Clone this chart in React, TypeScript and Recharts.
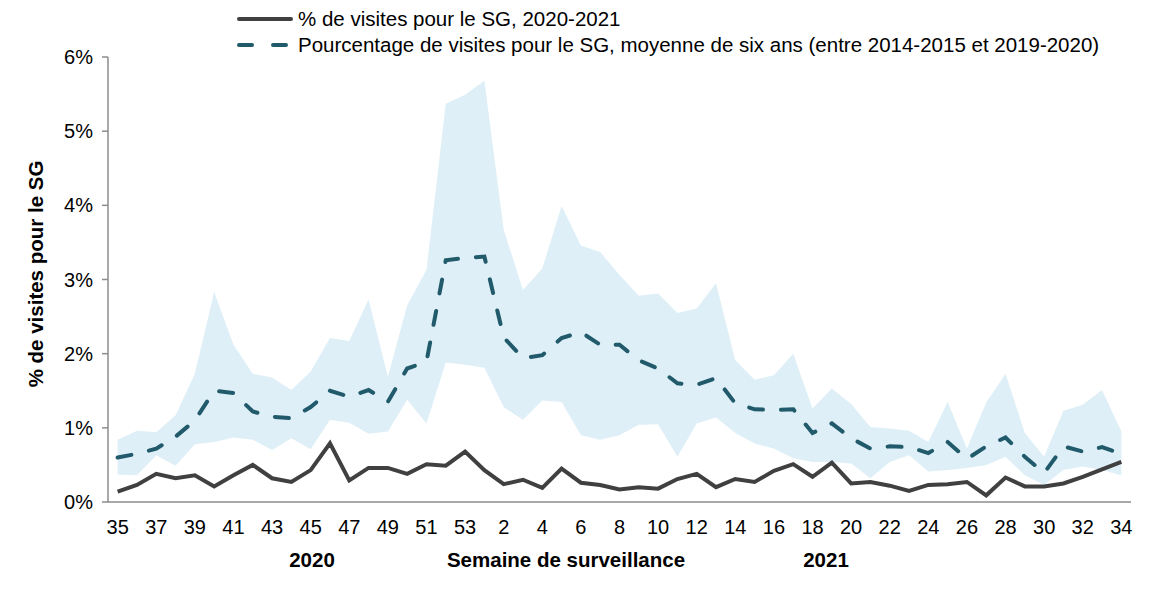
import React from "react";
import { ComposedChart, Area, Line, XAxis, YAxis } from "recharts";

// semaines de surveillance 35 (2020) -> 34 (2021)
const weeks = [
  35, 36, 37, 38, 39, 40, 41, 42, 43, 44, 45, 46, 47, 48, 49, 50, 51, 52, 53,
  1, 2, 3, 4, 5, 6, 7, 8, 9, 10, 11, 12, 13, 14, 15, 16, 17, 18, 19, 20, 21, 22,
  23, 24, 25, 26, 27, 28, 29, 30, 31, 32, 33, 34,
];

const current = [
  0.14, 0.23, 0.38, 0.32, 0.36, 0.21, 0.36, 0.5, 0.32, 0.27, 0.43, 0.79, 0.29,
  0.46, 0.46, 0.38, 0.51, 0.49, 0.68, 0.43, 0.24, 0.3, 0.19, 0.45, 0.26, 0.23,
  0.17, 0.2, 0.18, 0.31, 0.38, 0.2, 0.31, 0.27, 0.42, 0.51, 0.34, 0.53, 0.25,
  0.27, 0.22, 0.15, 0.23, 0.24, 0.27, 0.09, 0.33, 0.21, 0.21, 0.25, 0.34, 0.44,
  0.54,
];

const average = [
  0.6, 0.65, 0.72, 0.88, 1.1, 1.5, 1.47, 1.22, 1.15, 1.13, 1.28, 1.5, 1.42, 1.51,
  1.35, 1.8, 1.89, 3.26, 3.29, 3.31, 2.22, 1.94, 1.98, 2.21, 2.29, 2.12, 2.12,
  1.91, 1.8, 1.6, 1.58, 1.67, 1.33, 1.25, 1.24, 1.25, 0.93, 1.06, 0.86, 0.72,
  0.75, 0.74, 0.66, 0.81, 0.58, 0.75, 0.87, 0.61, 0.39, 0.75, 0.68, 0.74, 0.65,
];

const upper = [
  0.84, 0.96, 0.94, 1.17, 1.73, 2.83, 2.12, 1.73, 1.68, 1.51, 1.76, 2.21, 2.17,
  2.73, 1.69, 2.65, 3.13, 5.37, 5.49, 5.68, 3.67, 2.86, 3.15, 3.99, 3.46, 3.37,
  3.06, 2.78, 2.81, 2.55, 2.61, 2.95, 1.91, 1.65, 1.71, 2.0, 1.26, 1.53, 1.32,
  1.01, 0.99, 0.96, 0.81, 1.35, 0.72, 1.34, 1.73, 0.93, 0.61, 1.23, 1.31, 1.51,
  0.95,
];

const lower = [
  0.37, 0.36, 0.63, 0.49, 0.78, 0.81, 0.87, 0.84, 0.7, 0.86, 0.71, 1.11, 1.07,
  0.92, 0.95, 1.38, 1.06, 1.88, 1.85, 1.81, 1.28, 1.11, 1.37, 1.35, 0.9, 0.84,
  0.9, 1.04, 1.05, 0.61, 1.06, 1.14, 0.93, 0.79, 0.72, 0.59, 0.54, 0.54, 0.52,
  0.32, 0.54, 0.63, 0.41, 0.43, 0.46, 0.5, 0.61, 0.36, 0.23, 0.43, 0.48, 0.43,
  0.36,
];

const yTicks = [0, 1, 2, 3, 4, 5, 6];

const data = weeks.map((w, i) => ({
  idx: i,
  week: w,
  current: current[i],
  average: average[i],
  band: [lower[i], upper[i]],
}));

const boundaryTicks = weeks.map((_, i) => i - 0.5).concat([weeks.length - 0.5]);
const labelTicks = weeks.map((_, i) => i).filter((i) => i % 2 === 0);

const FONT = "'Liberation Sans', Arial, sans-serif";
const AXIS_COLOR = "#8c8c8c";
const SOLID = "#404040";
const DASH = "#215a6b";
const BAND = "#deeff7";

export default function App() {
  return (
    <div style={{ position: "absolute", left: 0, top: 0, width: 1172, height: 591, fontFamily: FONT }}>
      <ComposedChart
        width={1172}
        height={591}
        data={data}
        margin={{ top: 57, right: 41, bottom: 0, left: 0 }}
      >
        <XAxis
          xAxisId={0}
          dataKey="idx"
          type="number"
          domain={[-0.5, weeks.length - 0.5]}
          ticks={boundaryTicks}
          tick={false}
          tickSize={6}
          height={10}
          axisLine={{ stroke: AXIS_COLOR, strokeWidth: 1.5 }}
          tickLine={{ stroke: AXIS_COLOR, strokeWidth: 1.5 }}
          allowDataOverflow
        />
        <XAxis
          xAxisId="lbl"
          dataKey="idx"
          type="number"
          domain={[-0.5, weeks.length - 0.5]}
          ticks={labelTicks}
          tickFormatter={(v: number) => String(weeks[v])}
          interval={0}
          tickSize={0}
          tickMargin={8}
          height={79}
          axisLine={false}
          tickLine={false}
          tick={{ fill: "#000", fontSize: 20, fontFamily: FONT }}
          allowDataOverflow
        />
        <YAxis
          domain={[0, 6]}
          ticks={yTicks}
          tickFormatter={(v: number) => `${v}%`}
          width={108}
          tickSize={6}
          tickMargin={9}
          interval={0}
          axisLine={{ stroke: AXIS_COLOR, strokeWidth: 1.5 }}
          tickLine={{ stroke: AXIS_COLOR, strokeWidth: 1.5 }}
          tick={{ fill: "#000", fontSize: 20, fontFamily: FONT }}
        />
        <Area
          dataKey="band"
          stroke="none"
          fill={BAND}
          fillOpacity={1}
          type="linear"
          isAnimationActive={false}
          activeDot={false}
          dot={false}
        />
        <Line
          dataKey="average"
          stroke={DASH}
          strokeWidth={4}
          strokeDasharray="14 18"
          strokeLinecap="round"
          type="linear"
          dot={false}
          isAnimationActive={false}
        />
        <Line
          dataKey="current"
          stroke={SOLID}
          strokeWidth={4}
          type="linear"
          dot={false}
          isAnimationActive={false}
        />
      </ComposedChart>

      <svg
        width={1172}
        height={591}
        style={{ position: "absolute", left: 0, top: 0, pointerEvents: "none" }}
        fontFamily={FONT}
      >
        {/* légende */}
        <line x1={239} y1={19} x2={291} y2={19} stroke={SOLID} strokeWidth={4} strokeLinecap="round" />
        <text x={298} y={26} fontSize={20.5} fill="#000">
          % de visites pour le SG, 2020-2021
        </text>
        <line x1={239} y1={45} x2={291} y2={45} stroke={DASH} strokeWidth={4} strokeDasharray="13 21" strokeLinecap="round" />
        <text x={298} y={52} fontSize={20.5} fill="#000">
          Pourcentage de visites pour le SG, moyenne de six ans (entre 2014-2015 et 2019-2020)
        </text>

        {/* titres des axes */}
        <text
          x={35}
          y={274}
          fontSize={20.5}
          fontWeight="bold"
          textAnchor="middle"
          dominantBaseline="central"
          transform="rotate(-90 35 274)"
          fill="#000"
        >
          % de visites pour le SG
        </text>
        <text x={312} y={567} fontSize={20.5} fontWeight="bold" textAnchor="middle" fill="#000">
          2020
        </text>
        <text x={566} y={567} fontSize={20.5} fontWeight="bold" textAnchor="middle" fill="#000">
          Semaine de surveillance
        </text>
        <text x={826} y={567} fontSize={20.5} fontWeight="bold" textAnchor="middle" fill="#000">
          2021
        </text>
      </svg>
    </div>
  );
}
